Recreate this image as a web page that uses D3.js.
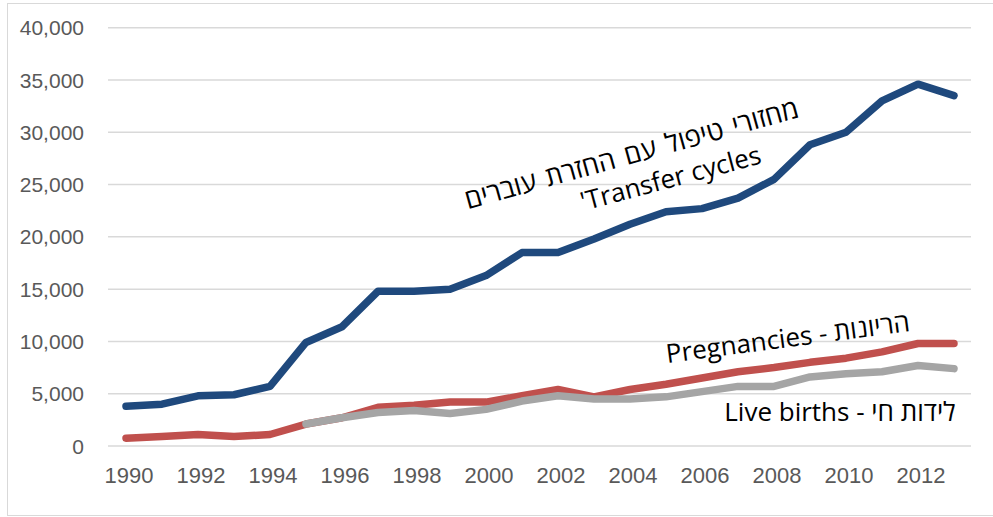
<!DOCTYPE html>
<html>
<head>
<meta charset="utf-8">
<script src="https://cdn.jsdelivr.net/npm/d3@7"></script>
<style>
  body { margin: 0; background: white; }
</style>
</head>
<body>
<div class="chart"></div>
<script>
const years = d3.range(1990, 2014)
const yTicks = [0, 5000, 10000, 15000, 20000, 25000, 30000, 35000, 40000]
const xTickYears = [1990, 1992, 1994, 1996, 1998, 2000, 2002, 2004, 2006, 2008, 2010, 2012]

const transferCycles = [3800, 4000, 4800, 4900, 5700, 9900, 11400, 14800, 14800, 15000, 16300, 18500,
  18500, 19800, 21200, 22400, 22700, 23700, 25500, 28800, 30000, 33000, 34600, 33500]
const pregnancies = [750, 900, 1100, 900, 1100, 2100, 2700, 3700, 3900, 4200, 4200, 4800,
  5400, 4700, 5400, 5900, 6500, 7100, 7500, 8000, 8400, 9000, 9800, 9800]
const liveBirths = [null, null, null, null, null, 2100, 2700, 3200, 3400, 3100, 3500, 4300,
  4800, 4500, 4500, 4700, 5200, 5700, 5700, 6600, 6900, 7100, 7700, 7400]

const series = [
  { name: 'transfer', values: transferCycles, color: '#1f497d' },
  { name: 'pregnancies', values: pregnancies, color: '#c0504d' },
  { name: 'births', values: liveBirths, color: '#a5a5a5' }
]

const width = 993
const height = 517

const svg = d3.select('.chart')
  .append('svg')
  .attr('width', width)
  .attr('height', height)

svg.append('rect')
  .attr('x', 7.5)
  .attr('y', 3.5)
  .attr('width', 992)
  .attr('height', 512)
  .attr('fill', 'white')
  .attr('stroke', '#d9d9d9')
  .attr('stroke-width', 1)

const x = d3.scaleBand().domain(years).range([108, 972])
const y = d3.scaleLinear().domain([0, 40000]).range([446, 27.7])

svg.append('g')
  .selectAll('line')
  .data(yTicks)
  .enter()
  .append('line')
    .attr('x1', 108)
    .attr('x2', 971)
    .attr('y1', d => y(d))
    .attr('y2', d => y(d))
    .attr('stroke', '#d9d9d9')
    .attr('stroke-width', 1.5)

svg.append('g')
  .selectAll('text')
  .data(yTicks)
  .enter()
  .append('text')
    .attr('x', 84)
    .attr('y', d => y(d))
    .attr('dy', '0.36em')
    .attr('text-anchor', 'end')
    .style('font-family', '"Liberation Sans", Arial, sans-serif')
    .style('font-size', '21px')
    .style('fill', '#595959')
    .text(d => d3.format(',')(d))

svg.append('g')
  .selectAll('text')
  .data(xTickYears)
  .enter()
  .append('text')
    .attr('x', d => x(d) + x.bandwidth() / 2 + 3)
    .attr('y', 483)
    .attr('text-anchor', 'middle')
    .style('font-family', '"Liberation Sans", Arial, sans-serif')
    .style('font-size', '22px')
    .style('fill', '#595959')
    .text(d => d)

const line = d3.line()
  .defined(d => d[1] != null)
  .x(d => x(d[0]) + x.bandwidth() / 2)
  .y(d => y(d[1]))

svg.append('g')
  .selectAll('path')
  .data(series)
  .enter()
  .append('path')
    .attr('d', s => line(years.map((yr, i) => [yr, s.values[i]])))
    .attr('fill', 'none')
    .attr('stroke', s => s.color)
    .attr('stroke-width', 7.5)
    .attr('stroke-linecap', 'round')
    .attr('stroke-linejoin', 'round')

const labelFont = '"Open Sans", "DejaVu Sans", sans-serif'

const labels = [
  { text: 'מחזורי טיפול  עם החזרת עוברים', cx: 634, cy: 163, angle: -15.5, size: 27, ws: 3 },
  { text: '\'Transfer cycles', cx: 673, cy: 187, angle: -15, size: 26, ws: 0 },
  { text: 'Pregnancies - הריונות', cx: 789, cy: 347, angle: -7.5, size: 26, ws: 0 },
  { text: 'Live births - לידות חי', cx: 840, cy: 421, angle: 0, size: 26, ws: 0 }
]

svg.append('g')
  .selectAll('text')
  .data(labels)
  .enter()
  .append('text')
    .attr('transform', d => `translate(${d.cx},${d.cy}) rotate(${d.angle})`)
    .attr('text-anchor', 'middle')
    .style('font-family', labelFont)
    .style('font-size', d => d.size + 'px')
    .style('word-spacing', d => d.ws + 'px')
    .style('fill', '#000')
    .text(d => d.text)
</script>
</body>
</html>
